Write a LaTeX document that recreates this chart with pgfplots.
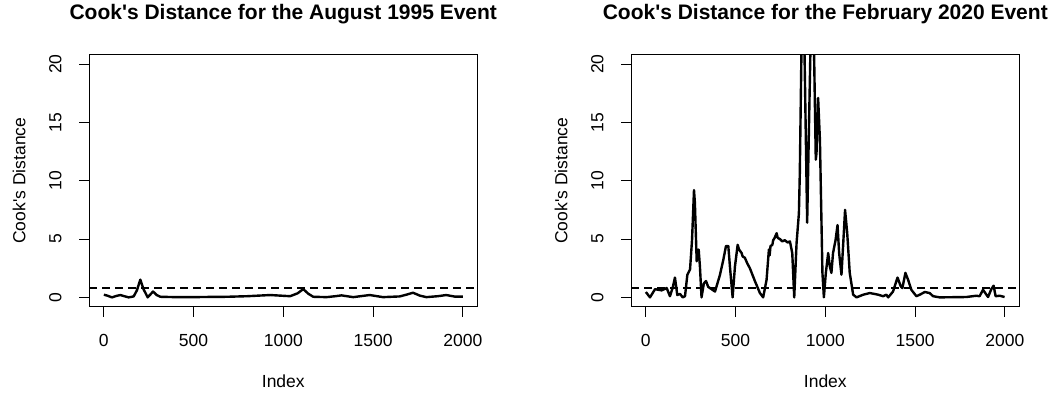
\documentclass[border=0pt]{standalone}
\usepackage{pgfplots}
\pgfplotsset{compat=1.18}
\usepackage{fontspec}
\setmainfont{Liberation Sans}

\pgfplotsset{
  cookstyle/.style={
    scale only axis,
    width=388pt, height=252pt,
    xmin=-80, xmax=2080, ymin=-0.8, ymax=20.8,
    xtick={0,500,1000,1500,2000},
    ytick={0,5,10,15,20},
    tick align=outside,
    major tick length=10pt,
    xtick pos=bottom, ytick pos=left,
    axis line style={line width=1pt, black},
    every tick/.style={line width=1pt, black},
    /pgf/number format/assume math mode=true,
    /pgf/number format/set thousands separator={},
    tick label style={font=\fontsize{17.5}{20}\selectfont},
    xticklabel style={yshift=-14pt},
    yticklabel={\rotatebox{90}{\pgfmathprintnumber[assume math mode=true]{\tick}}},
    yticklabel style={anchor=east, inner sep=0pt, xshift=-17.6pt},
    label style={font=\fontsize{17.5}{20}\selectfont},
    xlabel={Index},
    ylabel={Cook\textquotesingle s Distance},
    xlabel style={at={([yshift=-81pt]axis description cs:0.5,0)}, anchor=base},
    ylabel style={at={([xshift=-64pt]axis description cs:0,0.5)}, anchor=base, rotate=0},
    title style={at={([yshift=28.7pt]axis description cs:0.5,1)}, anchor=base, font=\bfseries\fontsize{21}{24}\selectfont},
    clip=true,
  },
  cookline/.style={black, line width=2.4pt, line join=round},
  cookref/.style={black, line width=2pt, dash pattern=on 8pt off 5pt},
}

\begin{document}
\begin{tikzpicture}
\path[use as bounding box] (0,0) rectangle (1057pt,399pt);

\begin{axis}[cookstyle, at={(89.3pt,92.3pt)}, anchor=south west,
  title={Cook\textquotesingle s Distance for the August 1995 Event}]
\addplot[cookline] coordinates {
(1,0.23) (20,0.15) (46,0.0) (70,0.12) (93,0.2) (115,0.1) (139,0.0) (167,0.08) (185,0.6) (204,1.52) (222,0.7)
(245,0.0) (260,0.25) (275,0.5) (295,0.2) (316,0.05) (400,0.02) (500,0.02) (600,0.04) (686,0.05)
(800,0.1) (927,0.2) (1038,0.1) (1080,0.35) (1111,0.71) (1140,0.3) (1167,0.05)
(1241,0.02) (1290,0.1) (1324,0.17) (1389,0.02) (1440,0.12) (1481,0.2) (1555,0.02) (1648,0.08)
(1690,0.25) (1722,0.4) (1760,0.15) (1796,0.02) (1860,0.1) (1907,0.2) (1953,0.07) (2000,0.07)
};
\addplot[cookref] coordinates {(-80,0.8) (2080,0.8)};
\end{axis}

\begin{axis}[cookstyle, at={(631.3pt,92.3pt)}, anchor=south west,
  title={Cook\textquotesingle s Distance for the February 2020 Event}]
\addplot[cookline] coordinates {
(1,0.46) (24,0.0) (52,0.7) (89,0.6) (117,0.8) (135,0.1) (150,0.8) (163,1.7)
(176,0.2) (191,0.3) (206,0.0) (219,0.1) (232,1.94) (247,2.4) (258,4.9)
(269,9.2) (274,8.1) (284,3.1) (295,4.1) (302,2.65) (311,0.0) (324,1.2)
(336,1.4) (348,0.9) (386,0.5) (413,1.9) (432,3.2) (447,4.4) (460,4.4)
(469,2.65) (484,0.0) (497,2.65) (512,4.5) (520,4.1) (534,3.8) (540,3.5) (552,3.4) (566,2.9) (580,2.5)
(608,1.4) (636,0.37) (654,0.0) (673,1.5) (686,4.1) (690,3.6) (695,4.4) (705,4.5) (710,4.9)
(718,5.1) (729,5.5) (735,5.1) (747,5.0) (760,4.8) (775,4.9) (790,4.7) (803,4.8) (816,3.8) (827,0.0) (840,4.65)
(853,7.2) (858,10.6) (875,30) (899,6.4) (928,30) (947,11.8) (951,12.35)
(960,17.1) (970,13.5) (984,2.1) (992,0.0) (1003,2.1) (1016,3.8) (1025,2.65)
(1034,2.1) (1043,3.8) (1057,4.9) (1068,6.2) (1077,3.8) (1090,1.94)
(1099,4.4) (1110,7.5) (1122,5.5) (1136,2.1) (1155,0.23) (1174,0.0)
(1211,0.23) (1248,0.37) (1294,0.23) (1322,0.1) (1340,0.23) (1350,0.0)
(1377,0.5) (1402,1.7) (1420,0.95) (1429,0.8) (1446,2.1) (1461,1.5)
(1479,0.65) (1507,0.1) (1526,0.23) (1554,0.46) (1581,0.37) (1600,0.1)
(1637,0.0) (1785,0.03) (1841,0.14) (1859,0.1) (1878,0.65) (1906,0.03)
(1924,0.7) (1937,1.0) (1948,0.1) (1971,0.14) (1998,0.03)
};
\addplot[cookref] coordinates {(-80,0.8) (2080,0.8)};
\end{axis}
\end{tikzpicture}
\end{document}
